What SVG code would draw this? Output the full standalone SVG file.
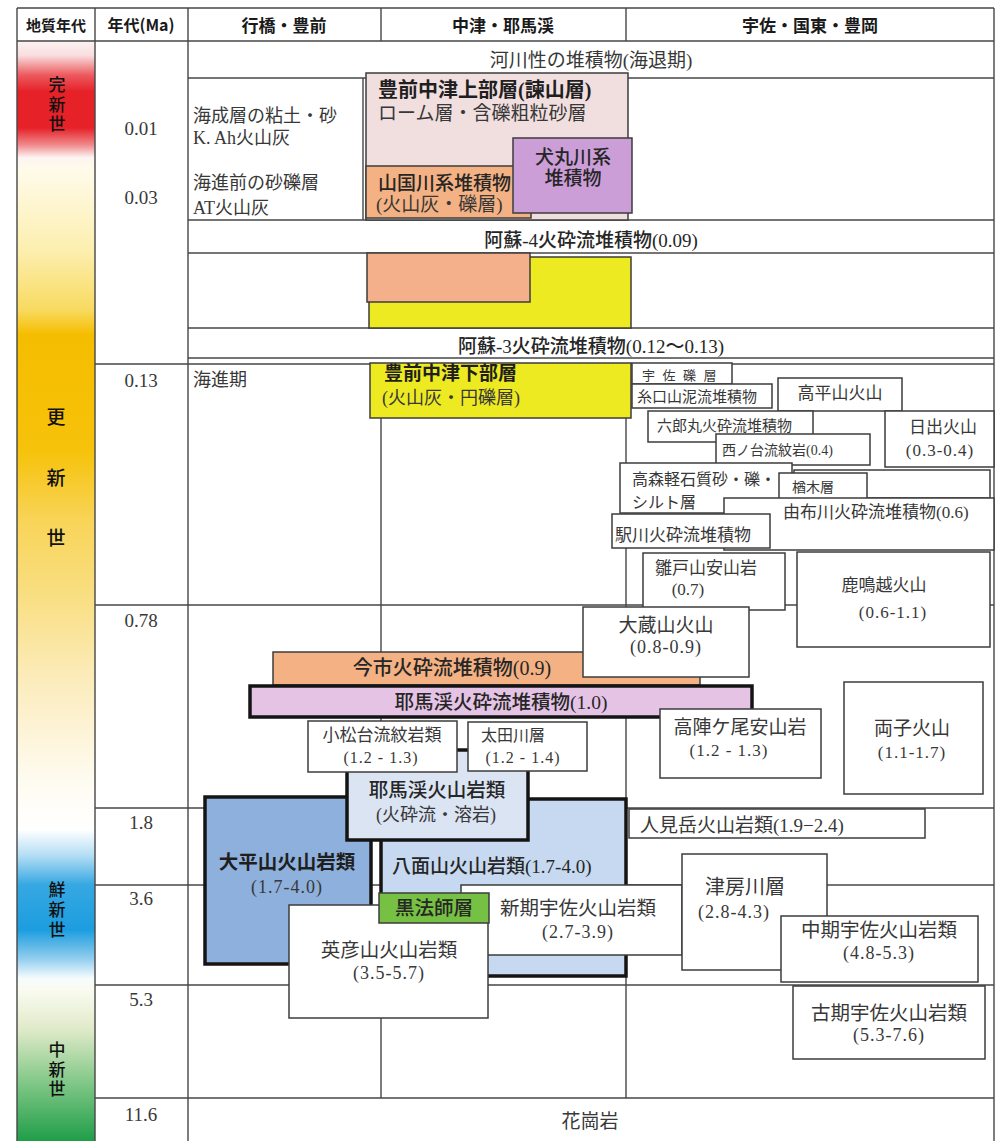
<svg xmlns="http://www.w3.org/2000/svg" width="1004" height="1141" viewBox="0 0 1004 1141">
<defs>
<linearGradient id="eraGrad" gradientUnits="userSpaceOnUse" x1="0" y1="41" x2="0" y2="1141">
<stop offset="0" stop-color="#fdf3f3"/>
<stop offset="0.013" stop-color="#f9dede"/>
<stop offset="0.031" stop-color="#ec5a5e"/>
<stop offset="0.046" stop-color="#e62128"/>
<stop offset="0.079" stop-color="#e62128"/>
<stop offset="0.0945" stop-color="#f08a8c"/>
<stop offset="0.106" stop-color="#fdf4f2"/>
<stop offset="0.117" stop-color="#fffbea"/>
<stop offset="0.19" stop-color="#fcefb0"/>
<stop offset="0.2445" stop-color="#f8da60"/>
<stop offset="0.267" stop-color="#f5bd00"/>
<stop offset="0.372" stop-color="#f6c20a"/>
<stop offset="0.4355" stop-color="#f8d458"/>
<stop offset="0.508" stop-color="#f9df84"/>
<stop offset="0.581" stop-color="#fcecbc"/>
<stop offset="0.672" stop-color="#fefbf0"/>
<stop offset="0.717" stop-color="#ffffff"/>
<stop offset="0.74" stop-color="#b6def4"/>
<stop offset="0.767" stop-color="#36a8e2"/>
<stop offset="0.808" stop-color="#1c9ddf"/>
<stop offset="0.834" stop-color="#90cdee"/>
<stop offset="0.852" stop-color="#f6fbfd"/>
<stop offset="0.863" stop-color="#fafbf0"/>
<stop offset="0.899" stop-color="#dfeac8"/>
<stop offset="0.9445" stop-color="#86c98a"/>
<stop offset="1" stop-color="#1f9e48"/>
</linearGradient>
<style>
.ln{stroke:#474747;stroke-width:1.4;fill:none}
.bx{stroke:#3d3d3d;stroke-width:1.5}
.wh{fill:#fff}
.tk{stroke:#141414;stroke-width:3.5}
text{font-family:"Liberation Serif","Noto Sans CJK JP",serif;fill:#383838;dominant-baseline:central}
.c{text-anchor:middle}
.m{font-weight:500;fill:#262626}
.B{font-weight:700;fill:#1f1f1f}
.n{letter-spacing:1px}
.h{font-family:"Noto Sans CJK JP",sans-serif;font-weight:700;fill:#1a1a1a;text-anchor:middle;font-size:17px}
.era{font-family:"Noto Sans CJK JP",sans-serif;font-size:17px;fill:#111;text-anchor:middle;font-weight:500;writing-mode:vertical-rl;letter-spacing:2.5px}
.f13{font-size:13px}.f14{font-size:14px}.f15{font-size:15px}.f16{font-size:16px}.f17{font-size:17px}.f18{font-size:18px}.f19{font-size:19px}.f195{font-size:19.5px}.f20{font-size:20px}
</style>
</defs>
<rect width="1004" height="1141" fill="#fff"/>
<g id="era-bar">
<rect x="17" y="41" width="78" height="1100" fill="url(#eraGrad)"/>
</g>
<g id="grid" class="ln">
<path d="M17,8H994 M17,41H994 M17,8V1141 M95,8V1141 M188,8V1141 M994,8V1141 M381,8V41 M626,8V41 M381,364V1098 M626,364V1098 M188,78H994 M188,220H994 M188,253H994 M188,328H994 M188,358H994 M95,364H994 M95,605H994 M95,808H994 M95,885H994 M95,985H994 M95,1098H994 M363,78V220"/>
</g>
<g id="header">
<text class="h" x="56" y="24" style="font-size:15px">地質年代</text>
<text class="h" x="141" y="24" style="font-size:16px">年代(Ma)</text>
<text class="h" x="284" y="24">行橋・豊前</text>
<text class="h" x="503" y="24">中津・耶馬渓</text>
<text class="h" x="810" y="24">宇佐・国東・豊岡</text>
</g>
<g id="era-labels">
<text class="era" x="57" y="105.5">完新世</text>
<text class="era" x="56" y="498.5" style="font-size:19px;letter-spacing:41.5px">更新世</text>
<text class="era" x="57" y="911.5" style="letter-spacing:3px">鮮新世</text>
<text class="era" x="57" y="1070.5">中新世</text>
</g>
<g id="ages">
<text class="c f19" x="141" y="128">0.01</text>
<text class="c f19" x="141" y="197">0.03</text>
<text class="c f19" x="141" y="380">0.13</text>
<text class="c f19" x="141" y="620">0.78</text>
<text class="c f19" x="141" y="822">1.8</text>
<text class="c f19" x="141" y="898">3.6</text>
<text class="c f19" x="141" y="999">5.3</text>
<text class="c f19" x="141" y="1114">11.6</text>
</g>
<g id="row-kasen"><text class="c f19" x="591" y="60">河川性の堆積物(海退期)</text></g>
<g id="yukuhashi-upper">
<text class="f18" x="193" y="116">海成層の粘土・砂</text>
<text class="f18" x="193" y="138">K. Ah火山灰</text>
<text class="f18" x="193" y="183">海進前の砂礫層</text>
<text class="f18" x="193" y="208">AT火山灰</text>
</g>
<g id="buzen-nakatsu-upper">
<rect class="bx" x="366" y="73" width="262" height="147" fill="#f1dede"/>
<text class="f20 B" x="378" y="90">豊前中津上部層(諫山層)</text>
<text class="f19" x="378" y="113">ローム層・含礫粗粒砂層</text>
</g>
<g id="yamakunigawa">
<rect class="bx" x="366" y="166" width="165" height="52" fill="#f4b183"/>
<text class="f19 m" x="378" y="183">山国川系堆積物</text>
<text class="f19" x="376" y="204">(火山灰・礫層)</text>
</g>
<g id="inumarugawa">
<rect class="bx" x="513" y="138" width="119" height="75" fill="#cc9ed8"/>
<text class="f19 m c" x="573" y="157">犬丸川系</text>
<text class="f19 m c" x="573" y="178">堆積物</text>
</g>
<g id="aso4"><text class="c f19 m" x="591" y="240">阿蘇-4火砕流堆積物(0.09)</text></g>
<g id="mid-boxes">
<rect class="bx" x="369" y="257" width="262" height="71" fill="#eeea22"/>
<rect class="bx" x="367" y="253" width="163" height="49" fill="#f3b08a"/>
</g>
<g id="aso3"><text class="c f19 m" x="591" y="346">阿蘇-3火砕流堆積物(0.12〜0.13)</text></g>
<g id="kaishinki"><text class="f18" x="193" y="380">海進期</text></g>
<g id="buzen-nakatsu-lower">
<rect class="bx" x="370" y="363" width="261" height="55" fill="#eeea22"/>
<text class="f19 B" x="384" y="373">豊前中津下部層</text>
<text class="f18" x="382" y="398">(火山灰・円礫層)</text>
</g>
<g id="usa-gravel"><rect class="bx wh" x="632" y="363" width="100" height="21"/><text class="f13" x="642" y="375" style="letter-spacing:7.5px">宇佐礫層</text></g>
<g id="itoguchiyama"><rect class="bx wh" x="632" y="384" width="140" height="24"/><text class="f15" x="637" y="397">糸口山泥流堆積物</text></g>
<g id="takahirayama"><rect class="bx wh" x="778" y="378" width="124" height="33"/><text class="f17 c" x="840" y="393">高平山火山</text></g>
<g id="rokuromaru"><rect class="bx wh" x="648" y="411" width="165" height="31"/><text class="f15" x="657" y="426">六郎丸火砕流堆積物</text></g>
<g id="hiji"><rect class="bx wh" x="885" y="411" width="109" height="56"/><text class="f17 c" x="943" y="427">日出火山</text><text class="f17 c n" x="940" y="450">(0.3-0.4)</text></g>
<g id="nishinodai"><rect class="bx wh" x="716" y="434" width="154" height="31"/><text class="f14" x="722" y="450">西ノ台流紋岩(0.4)</text></g>
<g id="takamori"><rect class="bx wh" x="620" y="463" width="172" height="50"/><text class="f16" x="632" y="479">高森軽石質砂・礫・</text><text class="f16" x="632" y="502">シルト層</text></g>
<g id="blank-box"><rect class="bx wh" x="794" y="470" width="196" height="28"/></g>
<g id="naraki"><rect class="bx wh" x="779" y="473" width="88" height="27"/><text class="f14" x="792" y="487">楢木層</text></g>
<g id="yufugawa"><rect class="bx wh" x="724" y="498" width="270" height="52"/><text class="f17" x="783" y="512">由布川火砕流堆積物(0.6)</text></g>
<g id="ekigawa"><rect class="bx wh" x="612" y="514" width="158" height="34"/><text class="f17" x="615" y="535">駅川火砕流堆積物</text></g>
<g id="hinatoyama"><rect class="bx wh" x="643" y="553" width="142" height="57"/><text class="f17 c" x="706" y="568">雛戸山安山岩</text><text class="f17 c" x="688" y="589">(0.7)</text></g>
<g id="kanagoe"><rect class="bx wh" x="797" y="552" width="193" height="95"/><text class="f17 c" x="884" y="585">鹿鳴越火山</text><text class="f17 c n" x="893" y="612">(0.6-1.1)</text></g>
<g id="imaichi"><rect class="bx" x="273" y="652" width="427" height="33" fill="#f4b183"/><text class="f20 m c" x="452" y="668">今市火砕流堆積物(0.9)</text></g>
<g id="okurayama"><rect class="bx wh" x="583" y="607" width="166" height="70"/><text class="f19 c" x="666" y="625">大蔵山火山</text><text class="f18 c n" x="666" y="647">(0.8-0.9)</text></g>
<g id="yabakei-pf"><rect class="tk" x="250" y="686" width="502" height="31" fill="#e5c3e5"/><text class="f195 m c" x="501" y="702">耶馬渓火砕流堆積物(1.0)</text></g>
<g id="takajingao"><rect class="bx wh" x="660" y="709" width="161" height="69"/><text class="f19 c" x="740" y="727">高陣ケ尾安山岩</text><text class="f17 c n" x="729" y="750">(1.2 - 1.3)</text></g>
<g id="futago"><rect class="bx wh" x="844" y="682" width="139" height="112"/><text class="f19 c" x="912" y="728">両子火山</text><text class="f17 c n" x="912" y="752">(1.1-1.7)</text></g>
<g id="oheizan"><rect class="tk" x="205" y="797" width="166" height="167" fill="#8eb0dc"/><text class="f195 B c" x="287" y="862">大平山火山岩類</text><text class="f18 c n" x="287" y="887">(1.7-4.0)</text></g>
<g id="hachimenzan"><rect class="tk" x="381" y="799" width="245" height="177" fill="#c6d9f0"/><text class="f19 m" x="392" y="866">八面山火山岩類(1.7-4.0)</text></g>
<g id="yabakei-volc"><rect class="tk" x="347" y="750" width="181" height="90" fill="#dbe4f3"/><text class="f195 m c" x="437" y="790">耶馬渓火山岩類</text><text class="f18 c" x="436" y="815">(火砕流・溶岩)</text></g>
<g id="komatsudai"><rect class="bx wh" x="308" y="721" width="149" height="51"/><text class="f17 c" x="382" y="735">小松台流紋岩類</text><text class="f16 c n" x="381" y="757">(1.2 - 1.3)</text></g>
<g id="otagawa"><rect class="bx wh" x="468" y="722" width="119" height="49"/><text class="f16" x="481" y="735">太田川層</text><text class="f16 c n" x="523" y="757">(1.2 - 1.4)</text></g>
<g id="hitomidake"><rect class="bx wh" x="629" y="809" width="296" height="29"/><text class="f19" x="640" y="825">人見岳火山岩類(1.9−2.4)</text></g>
<g id="shinki-usa"><rect class="bx wh" x="461" y="885" width="221" height="70"/><text class="f195 c" x="578" y="908">新期宇佐火山岩類</text><text class="f18 c n" x="578" y="932">(2.7-3.9)</text></g>
<g id="hikosan"><rect class="bx wh" x="289" y="905" width="199" height="113"/><text class="f195 c" x="389" y="950">英彦山火山岩類</text><text class="f18 c n" x="389" y="973">(3.5-5.7)</text></g>
<g id="kurohoshi"><rect class="bx" x="379" y="893" width="110" height="30" fill="#76c043"/><text class="f195 m c" x="434" y="908">黒法師層</text></g>
<g id="tsubusagawa"><rect class="bx wh" x="682" y="854" width="145" height="116"/><text class="f20 c" x="745" y="887">津房川層</text><text class="f18 c n" x="734" y="912">(2.8-4.3)</text></g>
<g id="chuki-usa"><rect class="bx wh" x="781" y="916" width="197" height="66"/><text class="f195 c" x="879" y="930">中期宇佐火山岩類</text><text class="f18 c n" x="879" y="953">(4.8-5.3)</text></g>
<g id="koki-usa"><rect class="bx wh" x="793" y="986" width="192" height="73"/><text class="f195 c" x="889" y="1013">古期宇佐火山岩類</text><text class="f18 c n" x="889" y="1035">(5.3-7.6)</text></g>
<g id="granite"><text class="c f19" x="590" y="1121">花崗岩</text></g>
</svg>
